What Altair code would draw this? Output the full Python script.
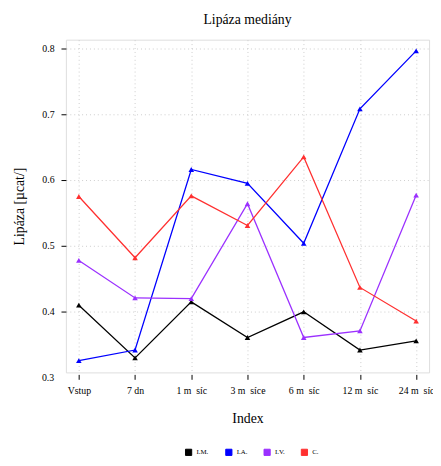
import altair as alt
import pandas as pd

categories = ["Vstup", "7 dn", "1 m\u00a0\u00a0síc", "3 m\u00a0\u00a0síce", "6 m\u00a0\u00a0síc", "12 m\u00a0\u00a0síc", "24 m\u00a0\u00a0síc"]
series_names = ["I.M.", "I.A.", "I.V.", "C."]
im_values = [0.410, 0.330, 0.415, 0.361, 0.400, 0.342, 0.356]
ia_values = [0.326, 0.342, 0.616, 0.595, 0.504, 0.708, 0.796]
iv_values = [0.478, 0.421, 0.420, 0.564, 0.361, 0.371, 0.577]
c_values = [0.575, 0.482, 0.576, 0.531, 0.635, 0.437, 0.386]
colors = ["#000000", "#0000FF", "#9B30FF", "#FF3030"]
y_ticks = [0.4, 0.5, 0.6, 0.7, 0.8]

rows = []
for name, vals in zip(series_names, [im_values, ia_values, iv_values, c_values]):
    for cat, v in zip(categories, vals):
        rows.append({"Index": cat, "value": v, "series": name})
df = pd.DataFrame(rows)

FONT = "Liberation Serif"

x_enc = alt.X("Index:N", sort=categories, title="Index",
              scale=alt.Scale(type="point", padding=0.23),
              axis=alt.Axis(labelAngle=0, domain=False, grid=True, gridDash=[1, 3],
                            gridColor="#cccccc", tickSize=5, offset=2, tickColor="#000000",
                            labelFontSize=10, labelFont=FONT, labelColor="#000000",
                            labelPadding=6, titleFontSize=14, titleFont=FONT,
                            titleFontWeight="normal", titleColor="#000000", titlePadding=17))
y_enc = alt.Y("value:Q", title="Lipáza [µcat/]",
              scale=alt.Scale(domain=[0.308, 0.813], nice=False, zero=False),
              axis=alt.Axis(values=y_ticks, format=".1f", domain=False, grid=True,
                            gridDash=[1, 3], gridColor="#cccccc", tickSize=5,
                            tickColor="#000000", labelFontSize=10, labelFont=FONT,
                            labelColor="#000000", labelPadding=7, titleFontSize=14,
                            titleFont=FONT, titleFontWeight="normal", titleColor="#000000",
                            titlePadding=16))
color_enc = alt.Color("series:N", sort=series_names,
                      scale=alt.Scale(domain=series_names, range=colors),
                      legend=alt.Legend(title=None, orient="none", direction="horizontal",
                                        legendX=121, legendY=416, symbolType="square",
                                        symbolSize=40, symbolStrokeWidth=1,
                                        symbolStrokeColor="#000000", labelFontSize=7,
                                        labelFont=FONT, labelColor="#000000",
                                        labelOffset=4, columnPadding=14, symbolOpacity=1))

base = alt.Chart(df)
lines = base.mark_line(strokeWidth=1.3).encode(x=x_enc, y=y_enc, color=color_enc,
                                               detail="series:N")
points = base.mark_point(shape="triangle-up", filled=True, size=32, opacity=1).encode(
    x=x_enc, y=y_enc, color=color_enc)

low_label = alt.Chart(pd.DataFrame({"v": [0.3]})).mark_text(
    align="right", baseline="middle", fontSize=10, font=FONT, color="#000000"
).encode(y=alt.Y("v:Q"), x=alt.value(-12), text=alt.Text("v:Q", format=".1f"))

chart = alt.layer(lines, points, low_label).properties(
    width=370, height=339,
    title=alt.Title("Lipáza mediány", font=FONT, fontSize=14, fontWeight="normal",
                    color="#000000", offset=13),
    autosize=alt.AutoSizeParams(type="none"),
    padding={"left": 59, "top": 28, "right": 4, "bottom": 88},
).configure_view(stroke="#000000", strokeWidth=1.2).configure(background="#ffffff")

chart.save("out.html", embed_options={"renderer": "svg", "actions": False})
